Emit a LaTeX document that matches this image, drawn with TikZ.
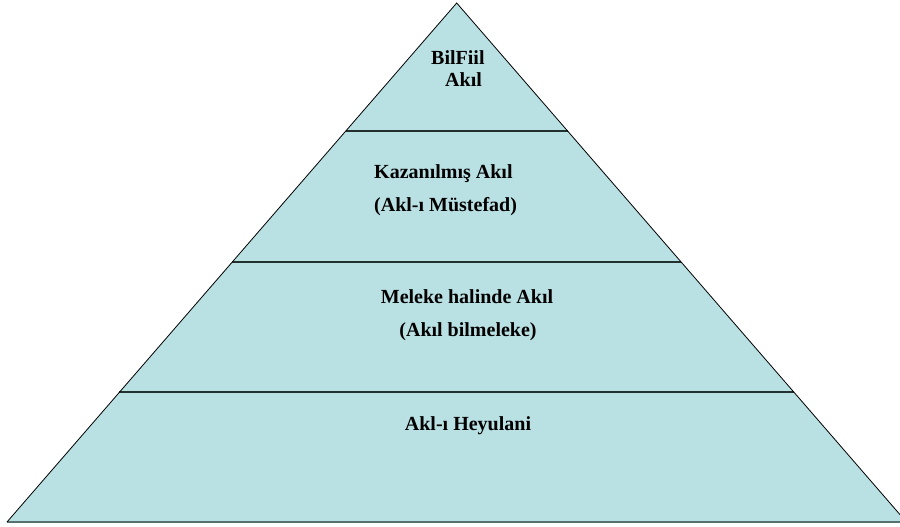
\documentclass[tikz,border=0pt]{standalone}
\usepackage{fontspec}
\setmainfont{Liberation Serif}
\usetikzlibrary{calc}
\definecolor{katman}{RGB}{185,224,227}
\definecolor{cizgi}{RGB}{35,48,48}
\definecolor{taban}{RGB}{88,112,112}
\tikzset{
  yazi/.style = {
    font=\fontsize{20}{22}\selectfont\bfseries,
    inner sep=0pt
  },
  ayrac/.style = {draw=cizgi, line width=2pt}
}

\begin{document}
\begin{tikzpicture}[x=1pt,y=-1pt]
  \useasboundingbox (0,0) rectangle (900,527);
  \clip (0,0) rectangle (900,527);
  \coordinate (tepe) at (456.7,3);
  \coordinate (solalt) at (7,522);
  \coordinate (sagalt) at (906.4,522);
  \fill[katman] (tepe) -- (solalt) -- (sagalt) -- cycle;
  % katman sinirlari
  \foreach \t/\ad in {0.247/a, 0.499/b, 0.75/c} {
    \coordinate (sol\ad) at ($(tepe)!\t!(solalt)$);
    \coordinate (sag\ad) at ($(tepe)!\t!(sagalt)$);
    \draw[ayrac] (sol\ad) -- (sag\ad);
  }
  \draw[taban, line width=2pt] (solalt) -- (sagalt);
  \draw[black, line width=0.8pt] (solalt) -- (tepe) -- (sagalt);
  \node[yazi, anchor=base west, align=left] (bilfiil) at (431,87)
    {BilFiil\\\hspace*{14pt}Akıl};
  \node[yazi, anchor=base west] (kazanilmis) at (374,178) {Kazanılmış Akıl};
  \node[yazi, anchor=base west] (mustefad) at (374,211) {(Akl-ı Müstefad)};
  \node[yazi, anchor=base] (meleke) at (467,303) {Meleke halinde Akıl};
  \node[yazi, anchor=base] (bilmeleke) at (468,336) {(Akıl bilmeleke)};
  \node[yazi, anchor=base] (heyulani) at (468,430) {Akl-ı Heyulani};
\end{tikzpicture}
\end{document}
